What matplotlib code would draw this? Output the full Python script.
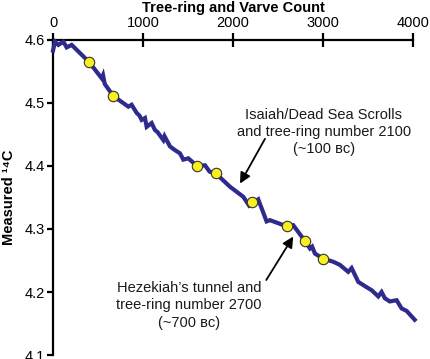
import matplotlib
matplotlib.use('Agg')
import matplotlib.pyplot as plt

plt.rcParams['font.family'] = ['Liberation Sans', 'DejaVu Sans']

# tree-ring count vs measured 14C
ring = [0, 22, 59, 115, 152, 207, 400, 541, 556, 575, 670, 837, 874, 930, 960,
        985, 1022, 1041, 1096, 1133, 1160, 1226, 1240, 1300, 1356, 1411, 1448,
        1504, 1600, 1689, 1740, 1810, 1967, 2115, 2180, 2281, 2374, 2411, 2600,
        2670, 2800, 2856, 2880, 2911, 3000, 3115, 3189, 3281, 3319, 3393, 3504,
        3540, 3615, 3652, 3689, 3744, 3819, 3874, 3930, 4020]
c14 = [4.583, 4.597, 4.592, 4.597, 4.588, 4.592, 4.565, 4.539, 4.544, 4.530,
       4.511, 4.494, 4.497, 4.484, 4.480, 4.473, 4.476, 4.462, 4.468, 4.457,
       4.454, 4.441, 4.447, 4.431, 4.425, 4.420, 4.410, 4.412, 4.400, 4.401,
       4.391, 4.388, 4.367, 4.351, 4.337, 4.347, 4.312, 4.314, 4.304, 4.306,
       4.281, 4.269, 4.272, 4.261, 4.253, 4.248, 4.243, 4.232, 4.238, 4.216,
       4.206, 4.203, 4.193, 4.200, 4.190, 4.185, 4.187, 4.174, 4.170, 4.156]

# yellow dots
dot_ring = [400, 670, 1600, 1810, 2210, 2600, 2800, 3000]
dot_c14 = [4.565, 4.511, 4.400, 4.388, 4.343, 4.304, 4.281, 4.253]

xticks = [0, 1000, 2000, 3000, 4000]
yticks = [4.1, 4.2, 4.3, 4.4, 4.5, 4.6]

fig = plt.figure(figsize=(4.31, 3.59), dpi=100)
ax = fig.add_axes([0.123, 0.011, 0.835, 0.878])

ax.plot(ring, c14, color='#2e2b8c', lw=3, solid_joinstyle='miter', clip_on=False, zorder=3)
ax.plot(dot_ring, dot_c14, 'o', ms=7.5, mfc='#f7f01e', mec='#333333', mew=0.8, zorder=4)

ax.set_xlim(0, 4000)
ax.set_ylim(4.1, 4.6)
ax.spines['right'].set_visible(False)
ax.spines['bottom'].set_visible(False)
ax.spines['top'].set_linewidth(1.6)
ax.spines['left'].set_linewidth(1.6)
ax.xaxis.tick_top()
ax.xaxis.set_label_position('top')
ax.set_xticks(xticks)
ax.set_yticks(yticks)
ax.set_yticklabels(['%.1f' % v for v in yticks])
ax.tick_params(axis='x', direction='inout', length=10, width=1.6, labelsize=10.5, pad=2)
ax.tick_params(axis='y', direction='out', length=4, width=1.6, labelsize=10.5, pad=2)
ax.set_xlabel('Tree-ring and Varve Count', fontsize=10.5, fontweight='bold', labelpad=3)
ax.set_ylabel('Measured ¹⁴C', fontsize=10.5, fontweight='bold', labelpad=6)

ax.text(3011, 4.454, 'Isaiah/Dead Sea Scrolls\nand tree-ring number 2100\n(~100 ʙᴄ)',
        ha='center', va='center', fontsize=10.5, linespacing=1.3, color='#1a1a1a')
ax.text(1511, 4.179, 'Hezekiah\u2019s tunnel and\ntree-ring number 2700\n(~700 ʙᴄ)',
        ha='center', va='center', fontsize=10.5, linespacing=1.3, color='#1a1a1a')

arrow = dict(arrowstyle='-|>', color='black', lw=1.3, mutation_scale=16, shrinkA=0, shrinkB=0)
ax.annotate('', xy=(2078, 4.372), xytext=(2356, 4.443), arrowprops=arrow)
ax.annotate('', xy=(2670, 4.288), xytext=(2370, 4.219), arrowprops=arrow)

fig.savefig('out.png', dpi=100)
